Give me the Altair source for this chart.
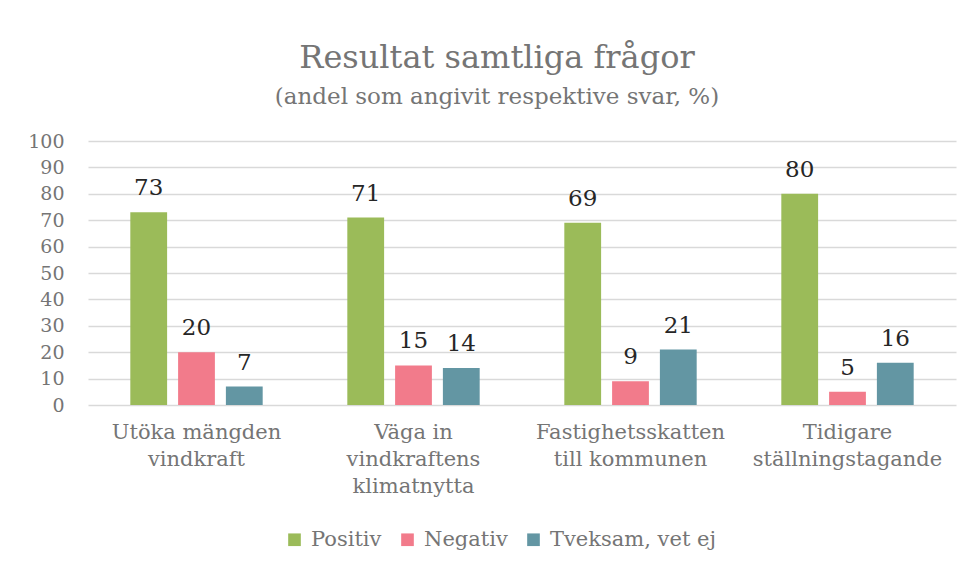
import altair as alt
import pandas as pd

categories = [
    "Utöka mängden|vindkraft",
    "Väga in|vindkraftens|klimatnytta",
    "Fastighetsskatten|till kommunen",
    "Tidigare|ställningstagande",
]
series = ["Positiv", "Negativ", "Tveksam, vet ej"]
positiv = [73, 71, 69, 80]
negativ = [20, 15, 9, 5]
tveksam = [7, 14, 21, 16]
colors = ["#9BBB59", "#F27B8B", "#6396A3"]
y_ticks = list(range(0, 101, 10))

rows = []
for i, c in enumerate(categories):
    for s, vals in zip(series, [positiv, negativ, tveksam]):
        rows.append({"Fråga": c, "Svar": s, "Andel": vals[i]})
df = pd.DataFrame(rows)

font = "DejaVu Serif"
gray = "#757575"

x = alt.X(
    "Fråga:N",
    sort=categories,
    scale=alt.Scale(paddingInner=0.39, paddingOuter=0.195),
    axis=alt.Axis(
        title=None, labelAngle=0, labelExpr="split(datum.label, '|')",
        labelFont=font, labelFontSize=21, labelColor=gray, labelLineHeight=27,
        labelPadding=16, labelLimit=0, domain=False, ticks=False,
    ),
)
y = alt.Y(
    "Andel:Q",
    scale=alt.Scale(domain=[0, 100], nice=False),
    axis=alt.Axis(
        title=None, values=y_ticks, labelFont=font, labelFontSize=19,
        labelColor=gray, labelPadding=24, domain=False, ticks=False,
        gridColor="#D9D9D9", gridWidth=1.3,
    ),
)
xoff = alt.XOffset("Svar:N", sort=series, scale=alt.Scale(paddingInner=0.23, paddingOuter=0))

base = alt.Chart(df)
bars = base.mark_bar().encode(
    x=x, y=y, xOffset=xoff,
    color=alt.Color(
        "Svar:N", sort=series,
        scale=alt.Scale(domain=series, range=colors),
        legend=alt.Legend(
            title=None, orient="none", direction="horizontal", legendX=196, legendY=388,
            symbolType="square", symbolSize=160, symbolStrokeWidth=0,
            labelFont=font, labelFontSize=21, labelColor=gray, columnPadding=15,
            labelOffset=6, labelLimit=0,
        ),
    ),
)
labels = base.mark_text(baseline="bottom", dy=-12, font=font, fontSize=23, color="#262626").encode(
    x=x, y=y, xOffset=xoff, text="Andel:Q"
)

chart = (
    alt.layer(bars, labels)
    .properties(
        width=868, height=264,
        title=alt.TitleParams(
            text="Resultat samtliga frågor",
            subtitle="(andel som angivit respektive svar, %)",
            font=font, fontSize=32, fontWeight="normal", color=gray,
            subtitleFont=font, subtitleFontSize=23, subtitleColor=gray,
            anchor="middle", dx=-25, offset=22, subtitlePadding=11,
        ),
        autosize=alt.AutoSizeParams(type="none"),
        padding={"left": 80, "top": 133, "right": 7, "bottom": 158},
    )
    .configure_view(stroke=None)
)

chart.save("out.html", embed_options={"renderer": "svg", "actions": False})
